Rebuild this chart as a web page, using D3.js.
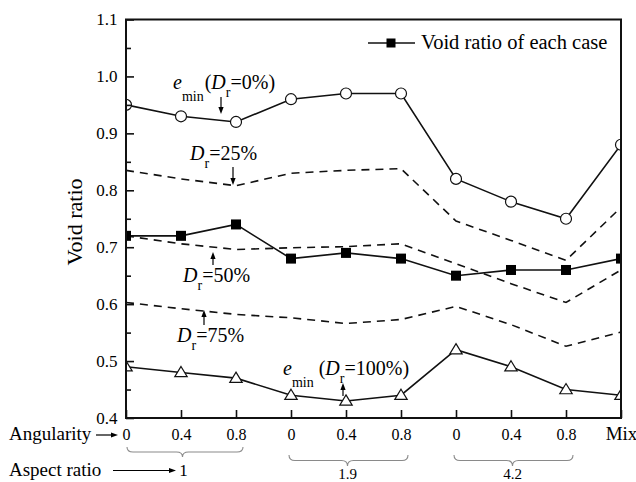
<!DOCTYPE html>
<html>
<head>
<meta charset="utf-8">
<script src="https://cdn.jsdelivr.net/npm/d3@7"></script>
<style>
  html, body { margin: 0; padding: 0; background: #fff; }
  svg { display: block; }
  svg text { font-family: "Liberation Serif", "Times New Roman", serif; }
</style>
</head>
<body>
<svg id="chart" width="636" height="482"></svg>
<script>
// ---- data ----
const angularity = ["0", "0.4", "0.8", "0", "0.4", "0.8", "0", "0.4", "0.8", "Mix"];
const caseIds = d3.range(angularity.length);
const aspectRatios = ["1", "1.9", "4.2"];
const aspectFirstCase = [0, 3, 6];
const aspectLastCase = [2, 5, 8];

const eMinDr0   = [0.95, 0.93, 0.92, 0.96, 0.97, 0.97, 0.82, 0.78, 0.75, 0.88];
const voidRatio = [0.72, 0.72, 0.74, 0.68, 0.69, 0.68, 0.65, 0.66, 0.66, 0.68];
const eDr100    = [0.49, 0.48, 0.47, 0.44, 0.43, 0.44, 0.52, 0.49, 0.45, 0.44];
const dr25      = [0.835, 0.820, 0.808, 0.830, 0.835, 0.838, 0.746, 0.712, 0.677, 0.770];
const dr50      = [0.720, 0.706, 0.696, 0.699, 0.701, 0.706, 0.671, 0.636, 0.603, 0.660];
const dr75      = [0.603, 0.592, 0.582, 0.576, 0.566, 0.573, 0.596, 0.564, 0.526, 0.551];

const yMajorTicks = [0.4, 0.5, 0.6, 0.7, 0.8, 0.9, 1.0, 1.1];
const yMinorTicks = [0.45, 0.55, 0.65, 0.75, 0.85, 0.95, 1.05];

// ---- layout ----
const svg = d3.select("#chart");
const plotLeft = 126, plotRight = 621, plotTop = 19.5, plotBottom = 418;
const serif = "'Liberation Serif', 'Times New Roman', serif";

const x = d3.scalePoint().domain(caseIds).range([plotLeft, plotRight]);
const y = d3.scaleLinear().domain([0.4, 1.1]).range([plotBottom, plotTop]);

svg.append("defs").append("clipPath").attr("id", "plotClip")
  .append("rect").attr("x", plotLeft).attr("y", plotTop)
  .attr("width", plotRight - plotLeft).attr("height", plotBottom - plotTop);

const plot = svg.append("g").attr("clip-path", "url(#plotClip)");

const line = d3.line().x((d, i) => x(i)).y(d => y(d));

// dashed relative-density curves
[dr25, dr50, dr75].forEach(s => {
  plot.append("path").datum(s)
    .attr("d", line)
    .attr("fill", "none").attr("stroke", "#111")
    .attr("stroke-width", 1.6).attr("stroke-dasharray", "8,6");
});

// solid series
[eMinDr0, voidRatio, eDr100].forEach(s => {
  plot.append("path").datum(s)
    .attr("d", line)
    .attr("fill", "none").attr("stroke", "#111").attr("stroke-width", 1.6);
});

// markers
plot.selectAll("circle.emin").data(eMinDr0).join("circle")
  .attr("cx", (d, i) => x(i)).attr("cy", d => y(d)).attr("r", 5.5)
  .attr("fill", "#fff").attr("stroke", "#111").attr("stroke-width", 1.2);

plot.selectAll("rect.vr").data(voidRatio).join("rect")
  .attr("x", (d, i) => x(i) - 5).attr("y", d => y(d) - 5)
  .attr("width", 10).attr("height", 10).attr("fill", "#000");

plot.selectAll("path.tri").data(eDr100).join("path")
  .attr("d", (d, i) => {
    const cx = x(i), cy = y(d);
    return `M${cx},${cy - 6}L${cx + 6.2},${cy + 4.2}L${cx - 6.2},${cy + 4.2}Z`;
  })
  .attr("fill", "#fff").attr("stroke", "#111").attr("stroke-width", 1.2);

// ---- axes ----
const yAxis = d3.axisLeft(y).tickValues(yMajorTicks)
  .tickSizeInner(-8).tickSizeOuter(0).tickPadding(8.5)
  .tickFormat(d3.format(".1f"));
const gy = svg.append("g").attr("transform", `translate(${plotLeft},0)`).call(yAxis);
gy.attr("font-family", serif);
gy.selectAll("text").attr("font-size", 17).attr("fill", "#000");

const yMinor = d3.axisLeft(y).tickValues(yMinorTicks)
  .tickSizeInner(-5).tickSizeOuter(0).tickFormat("");
svg.append("g").attr("transform", `translate(${plotLeft},0)`).call(yMinor);

const xAxis = d3.axisBottom(x)
  .tickSizeInner(-8).tickSizeOuter(0).tickPadding(10.5)
  .tickFormat(i => angularity[i]);
const gx = svg.append("g").attr("transform", `translate(0,${plotBottom})`).call(xAxis);
gx.attr("font-family", serif);
gx.selectAll("text").attr("font-size", d => angularity[d] === "Mix" ? 19 : 16)
  .attr("fill", "#000");
gx.selectAll("text").filter(d => angularity[d] === "Mix").attr("dy", "0.62em");

svg.selectAll(".domain").remove();
svg.selectAll(".tick line").attr("stroke", "#111").attr("stroke-width", 1.6);

// frame
svg.append("rect").attr("x", plotLeft).attr("y", plotTop)
  .attr("width", plotRight - plotLeft).attr("height", plotBottom - plotTop)
  .attr("fill", "none").attr("stroke", "#111").attr("stroke-width", 2);

// axis title
svg.append("text")
  .attr("transform", `translate(82,222) rotate(-90)`)
  .attr("text-anchor", "middle").attr("font-size", 22)
  .text("Void ratio");

// ---- legend ----
svg.append("line").attr("x1", 368).attr("x2", 415).attr("y1", 43).attr("y2", 43)
  .attr("stroke", "#111").attr("stroke-width", 1.6);
svg.append("rect").attr("x", 386.5).attr("y", 38.5).attr("width", 9).attr("height", 9)
  .attr("fill", "#000");
svg.append("text").attr("x", 421).attr("y", 49).attr("font-size", 20.5)
  .text("Void ratio of each case");

// ---- annotations ----
function richLabel(x0, y0, parts) {
  const t = svg.append("text").attr("x", x0).attr("y", y0).attr("font-size", 20);
  let shift = 0;
  parts.forEach(p => {
    const s = t.append("tspan").text(p.t);
    const target = p.sub || 0;
    s.attr("dy", target - shift);
    shift = target;
    if (p.sub) s.attr("font-size", 14);
    if (p.it) s.attr("font-style", "italic");
    if (p.dx) s.attr("dx", p.dx);
  });
  return t;
}

function arrow(x1, y1, x2, y2, len = 7, half = 2.6) {
  const a = Math.atan2(y2 - y1, x2 - x1);
  const bx = x2 - len * Math.cos(a), by = y2 - len * Math.sin(a);
  svg.append("line").attr("x1", x1).attr("y1", y1).attr("x2", bx).attr("y2", by)
    .attr("stroke", "#000").attr("stroke-width", 1.2);
  const px = -Math.sin(a) * half, py = Math.cos(a) * half;
  svg.append("path")
    .attr("d", `M${x2},${y2}L${bx + px},${by + py}L${bx - px},${by - py}Z`)
    .attr("fill", "#000");
}

richLabel(173, 89, [
  { t: "e", it: true }, { t: "min", sub: 12 }, { t: "(", dx: 1 },
  { t: "D", it: true }, { t: "r", sub: 8 }, { t: "=0%)" }
]);
arrow(221, 97, 221, 114);

richLabel(190, 160, [{ t: "D", it: true }, { t: "r", sub: 8 }, { t: "=25%" }]);
arrow(233, 167, 233, 185);

richLabel(183, 282, [{ t: "D", it: true }, { t: "r", sub: 8 }, { t: "=50%" }]);
arrow(213, 265, 213, 252);

richLabel(177, 342, [{ t: "D", it: true }, { t: "r", sub: 8 }, { t: "=75%" }]);
arrow(204, 325, 204, 310);

richLabel(283, 375, [
  { t: "e", it: true }, { t: "min", sub: 12 }, { t: " (" },
  { t: "D", it: true }, { t: "r", sub: 8 }, { t: "=100%)" }
]);
arrow(343, 396, 343, 383);

// ---- case description rows ----
svg.append("text").attr("x", 9).attr("y", 440).attr("font-size", 19).text("Angularity");
arrow(96, 435, 118, 435, 7, 2.4);

svg.append("text").attr("x", 9).attr("y", 476).attr("font-size", 19).text("Aspect ratio");
arrow(113, 470.5, 176, 470.5, 7, 2.4);

function brace(x0, x1, cx, yTop, depth) {
  const r = 6, mid = yTop + depth / 2, tip = yTop + depth;
  return `M${x0},${yTop}Q${x0},${mid} ${x0 + r},${mid}L${cx - r},${mid}` +
         `Q${cx},${mid} ${cx},${tip}Q${cx},${mid} ${cx + r},${mid}` +
         `L${x1 - r},${mid}Q${x1},${mid} ${x1},${yTop}`;
}

aspectRatios.forEach((label, k) => {
  const x0 = x(aspectFirstCase[k]) - (k === 0 ? -1 : 2);
  const x1 = x(aspectLastCase[k]) + 7;
  const cx = x(aspectFirstCase[k] + 1) + 1.5;
  const first = k === 0;
  svg.append("path")
    .attr("d", brace(x0, x1, cx, first ? 447 : 455, first ? 10 : 11))
    .attr("fill", "none").attr("stroke", "#8a8a8a").attr("stroke-width", 1.1);
  svg.append("text")
    .attr("x", first ? cx + 1 : cx).attr("y", first ? 476 : 479)
    .attr("text-anchor", "middle").attr("font-size", first ? 17 : 15)
    .text(label);
});

// every label in the serif face
svg.selectAll("text").style("font-family", serif);
</script>
</body>
</html>
